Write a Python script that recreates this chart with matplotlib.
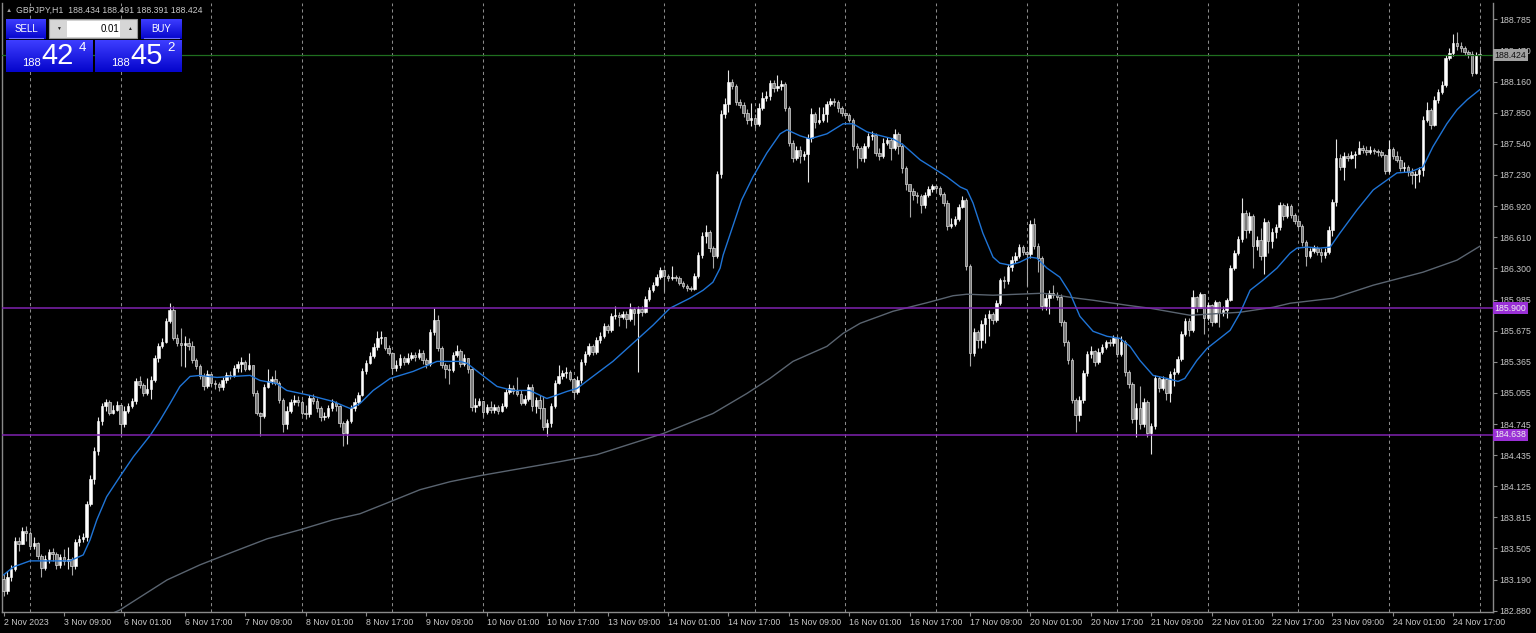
import numpy as np
import matplotlib
matplotlib.use("Agg")
import matplotlib.pyplot as plt
import matplotlib.transforms as mtransforms
from matplotlib.patches import Rectangle

plt.rcParams['font.family'] = ['Liberation Sans', 'DejaVu Sans']

symbol = "GBPJPY,H1"
first_open = 183.20
last_open = 188.434

# GBPJPY H1 closes, one per bar (2 Nov 17:00 .. 24 Nov)
closes = [
    183.08, 183.22, 183.30, 183.58, 183.55, 183.68, 183.66, 183.53, 183.56, 183.43,
    183.31, 183.40, 183.47, 183.45, 183.34, 183.42, 183.38, 183.40, 183.33, 183.57,
    183.60, 183.62, 183.95, 184.20, 184.48, 184.78, 184.92, 184.96, 184.86, 184.89,
    184.93, 184.75, 184.88, 184.92, 184.97, 185.17, 185.13, 185.05, 185.09, 185.18,
    185.40, 185.52, 185.56, 185.77, 185.88, 185.60, 185.55, 185.53, 185.55, 185.52,
    185.38, 185.32, 185.22, 185.12, 185.24, 185.15, 185.14, 185.11, 185.18, 185.23,
    185.22, 185.30, 185.34, 185.36, 185.29, 185.33, 185.05, 184.86, 184.83, 185.11,
    185.17, 185.19, 185.15, 184.98, 184.75, 184.88, 184.96, 184.98, 184.96, 184.86,
    184.85, 185.00, 184.97, 184.90, 184.82, 184.83, 184.90, 184.95, 184.92, 184.76,
    184.66, 184.78, 184.90, 184.96, 185.03, 185.27, 185.35, 185.42, 185.51, 185.60,
    185.61, 185.50, 185.45, 185.30, 185.33, 185.40, 185.36, 185.40, 185.43, 185.41,
    185.45, 185.38, 185.34, 185.66, 185.78, 185.50, 185.33, 185.29, 185.28, 185.43,
    185.47, 185.34, 185.40, 185.29, 184.91, 184.93, 184.97, 184.87, 184.91, 184.89,
    184.91, 184.88, 184.92, 185.06, 185.10, 185.07, 185.04, 184.95, 184.99, 185.11,
    184.92, 184.98, 184.90, 184.72, 184.76, 184.92, 185.15, 185.22, 185.25, 185.26,
    185.19, 185.06, 185.18, 185.36, 185.44, 185.52, 185.46, 185.58, 185.62, 185.72,
    185.68, 185.82, 185.83, 185.81, 185.84, 185.79, 185.89, 185.85, 185.89, 185.86,
    185.99, 186.08, 186.13, 186.21, 186.28, 186.22, 186.20, 186.21, 186.20, 186.15,
    186.12, 186.10, 186.09, 186.22, 186.43, 186.62, 186.66, 186.50, 186.42, 187.24,
    187.84, 187.94, 188.16, 188.12, 187.96, 187.93, 187.85, 187.78, 187.80, 187.74,
    187.90, 188.00, 188.02, 188.15, 188.10, 188.12, 188.14, 187.90, 187.55, 187.40,
    187.48, 187.42, 187.44, 187.60, 187.84, 187.76, 187.78, 187.84, 187.94, 187.97,
    187.96, 187.90, 187.85, 187.83, 187.78, 187.52, 187.50, 187.40, 187.52, 187.62,
    187.63, 187.45, 187.42, 187.55, 187.58, 187.50, 187.64, 187.52, 187.30, 187.14,
    187.07, 187.03, 187.02, 186.93, 187.03, 187.09, 187.12, 187.10, 187.04, 186.95,
    186.72, 186.74, 186.79, 186.91, 186.98, 186.32, 185.45, 185.66, 185.58, 185.74,
    185.80, 185.84, 185.78, 185.95, 186.18, 186.17, 186.31, 186.38, 186.42, 186.51,
    186.46, 186.44, 186.74, 186.52, 186.40, 185.92, 186.00, 186.05, 186.03, 186.01,
    185.76, 185.56, 185.38, 184.98, 184.84, 184.98, 185.25, 185.44, 185.47, 185.36,
    185.46, 185.51, 185.56, 185.55, 185.60, 185.44, 185.56, 185.26, 185.14, 184.80,
    184.90, 184.75, 184.96, 184.66, 184.73, 185.20, 185.10, 185.19, 185.05, 185.24,
    185.26, 185.39, 185.64, 185.77, 185.68, 186.01, 185.90, 186.04, 185.80, 185.93,
    185.76, 185.96, 185.85, 185.88, 185.98, 186.30, 186.45, 186.59, 186.85, 186.68,
    186.82, 186.52, 186.58, 186.42, 186.76, 186.57, 186.66, 186.71, 186.93, 186.82,
    186.92, 186.83, 186.77, 186.72, 186.56, 186.42, 186.47, 186.50, 186.46, 186.43,
    186.46, 186.68, 186.96, 187.40, 187.31, 187.42, 187.40, 187.43, 187.44, 187.50,
    187.48, 187.46, 187.48, 187.47, 187.46, 187.43, 187.27, 187.49, 187.42, 187.38,
    187.30, 187.31, 187.26, 187.23, 187.24, 187.28, 187.78, 187.88, 187.73, 187.98,
    188.06, 188.13, 188.40, 188.45, 188.55, 188.52, 188.50, 188.46, 188.44, 188.25,
    188.43, 188.424,
]
highs = [
    183.25, 183.28, 183.34, 183.62, 183.62, 183.72, 183.73, 183.68, 183.62, 183.57,
    183.45, 183.44, 183.50, 183.51, 183.47, 183.45, 183.50, 183.52, 183.42, 183.60,
    183.64, 183.66, 183.98, 184.24, 184.52, 184.82, 184.95, 184.99, 184.98, 184.93,
    184.97, 184.90, 184.92, 184.95, 185.00, 185.20, 185.22, 185.15, 185.20, 185.22,
    185.43, 185.55, 185.60, 185.80, 185.95, 185.92, 185.64, 185.70, 185.62, 185.60,
    185.57, 185.40, 185.34, 185.25, 185.28, 185.22, 185.18, 185.16, 185.21, 185.26,
    185.27, 185.33, 185.37, 185.41, 185.38, 185.45, 185.32, 185.08, 184.87, 185.14,
    185.29, 185.22, 185.28, 185.17, 185.00, 184.92, 184.99, 185.03, 185.02, 184.98,
    184.93, 185.03, 185.04, 185.00, 184.92, 184.87, 184.93, 184.99, 184.97, 184.93,
    184.78, 184.80, 184.93, 185.00, 185.06, 185.30, 185.38, 185.46, 185.55, 185.67,
    185.67, 185.60, 185.53, 185.46, 185.38, 185.44, 185.42, 185.45, 185.46, 185.46,
    185.49, 185.48, 185.40, 185.69, 185.90, 185.83, 185.52, 185.35, 185.34, 185.46,
    185.53, 185.49, 185.44, 185.40, 185.30, 185.00, 185.00, 184.97, 184.94, 184.97,
    184.94, 184.93, 184.95, 185.09, 185.14, 185.13, 185.21, 185.08, 185.03, 185.14,
    185.14, 185.01, 185.03, 185.02, 184.80, 184.95, 185.18, 185.33, 185.28, 185.31,
    185.28, 185.20, 185.22, 185.39, 185.47, 185.55, 185.54, 185.61, 185.66, 185.75,
    185.74, 185.85, 185.92, 185.86, 185.87, 185.87, 185.95, 185.91, 185.92, 185.92,
    186.02, 186.11, 186.16, 186.24, 186.31, 186.29, 186.24, 186.32, 186.23, 186.22,
    186.17, 186.14, 186.12, 186.25, 186.46, 186.66, 186.73, 186.68, 186.52, 187.27,
    187.88, 188.00, 188.28, 188.19, 188.14, 187.99, 187.96, 187.89, 187.95, 187.84,
    187.95, 188.06, 188.07, 188.18, 188.18, 188.23, 188.18, 188.16, 187.92, 187.58,
    187.52, 187.52, 187.47, 187.64, 187.90, 187.86, 187.91, 187.91, 187.97, 188.00,
    188.00, 187.98, 187.92, 187.86, 187.85, 187.80, 187.55, 187.52, 187.55, 187.65,
    187.67, 187.65, 187.50, 187.60, 187.61, 187.60, 187.69, 187.66, 187.55, 187.32,
    187.12, 187.10, 187.06, 187.04, 187.06, 187.12, 187.14, 187.13, 187.12, 187.06,
    186.98, 186.80, 186.82, 186.94, 187.02, 187.00, 186.34, 185.70, 185.68, 185.78,
    185.84, 185.88, 185.86, 185.98, 186.20, 186.22, 186.34, 186.42, 186.46, 186.54,
    186.53, 186.48, 186.78, 186.80, 186.55, 186.42, 186.04, 186.08, 186.13, 186.06,
    186.04, 185.78, 185.58, 185.40, 185.00, 185.02, 185.28, 185.47, 185.52, 185.48,
    185.50, 185.54, 185.58, 185.59, 185.63, 185.62, 185.62, 185.58, 185.28, 185.16,
    184.95, 185.12, 185.00, 184.98, 184.76, 185.23, 185.22, 185.22, 185.20, 185.27,
    185.30, 185.42, 185.67, 185.80, 185.80, 186.08, 186.02, 186.06, 186.04, 185.96,
    185.94, 185.98, 185.97, 185.92, 186.00, 186.33, 186.48, 186.62, 187.00, 186.88,
    186.86, 186.84, 186.62, 186.70, 186.80, 186.78, 186.70, 186.74, 186.96, 186.95,
    186.95, 186.94, 186.85, 186.80, 186.74, 186.58, 186.50, 186.53, 186.52, 186.50,
    186.50, 186.72, 186.99, 187.59, 187.44, 187.46, 187.45, 187.47, 187.47, 187.57,
    187.53, 187.52, 187.52, 187.50, 187.49, 187.48, 187.44, 187.58, 187.51, 187.47,
    187.42, 187.36, 187.33, 187.30, 187.27, 187.31, 187.82, 187.96, 187.90, 188.02,
    188.09, 188.17, 188.43, 188.50, 188.64, 188.66, 188.56, 188.52, 188.48, 188.47,
    188.46, 188.491,
]
lows = [
    183.03, 183.05, 183.18, 183.28, 183.48, 183.55, 183.58, 183.50, 183.50, 183.40,
    183.22, 183.29, 183.36, 183.38, 183.30, 183.31, 183.34, 183.30, 183.24, 183.30,
    183.53, 183.57, 183.58, 183.93, 184.15, 184.44, 184.74, 184.88, 184.84, 184.85,
    184.88, 184.63, 184.72, 184.86, 184.90, 184.94, 185.10, 185.02, 185.03, 184.99,
    185.16, 185.36, 185.50, 185.55, 185.75, 185.58, 185.52, 185.32, 185.31, 185.48,
    185.35, 185.29, 185.19, 185.08, 185.10, 185.12, 185.09, 185.07, 185.08, 185.15,
    185.19, 185.21, 185.26, 185.26, 185.27, 185.28, 185.02, 184.84, 184.63, 184.81,
    185.10, 185.14, 185.13, 184.95, 184.67, 184.70, 184.86, 184.93, 184.92, 184.84,
    184.80, 184.82, 184.94, 184.87, 184.78, 184.79, 184.81, 184.88, 184.88, 184.72,
    184.53, 184.55, 184.76, 184.88, 184.93, 185.02, 185.24, 185.34, 185.40, 185.48,
    185.54, 185.48, 185.43, 185.24, 185.27, 185.30, 185.33, 185.34, 185.38, 185.37,
    185.39, 185.34, 185.30, 185.32, 185.63, 185.47, 185.30, 185.20, 185.14, 185.26,
    185.41, 185.31, 185.32, 185.25, 184.88, 184.87, 184.92, 184.82, 184.85, 184.86,
    184.86, 184.85, 184.87, 184.90, 185.04, 185.04, 185.02, 184.93, 184.93, 184.97,
    184.88, 184.86, 184.80, 184.69, 184.63, 184.72, 184.90, 185.14, 185.19, 185.20,
    185.17, 185.00, 185.04, 185.15, 185.33, 185.42, 185.43, 185.44, 185.55, 185.60,
    185.65, 185.66, 185.79, 185.72, 185.79, 185.70, 185.77, 185.73, 185.26, 185.82,
    185.85, 185.97, 186.06, 186.12, 186.19, 186.06, 186.17, 186.18, 186.17, 186.13,
    186.10, 186.07, 186.07, 186.08, 186.20, 186.40, 186.55, 186.46, 186.30, 186.40,
    187.20, 187.80, 187.86, 188.09, 187.93, 187.90, 187.81, 187.74, 187.72, 187.70,
    187.72, 187.88, 187.97, 187.98, 188.06, 188.07, 188.08, 187.87, 187.52, 187.36,
    187.38, 187.35, 187.38, 187.16, 187.56, 187.70, 187.74, 187.76, 187.76, 187.92,
    187.92, 187.86, 187.82, 187.81, 187.76, 187.48, 187.30, 187.37, 187.36, 187.50,
    187.58, 187.42, 187.38, 187.40, 187.53, 187.38, 187.48, 187.44, 187.25, 187.08,
    186.81, 186.98, 186.95, 186.85, 186.90, 187.01, 187.06, 187.06, 187.02, 186.92,
    186.68, 186.70, 186.72, 186.77, 186.90, 186.28, 185.32, 185.42, 185.50, 185.50,
    185.55, 185.62, 185.74, 185.76, 185.93, 186.10, 186.14, 186.27, 186.35, 186.40,
    186.43, 186.12, 186.40, 186.49, 186.26, 185.88, 185.88, 185.84, 186.00, 185.98,
    185.72, 185.52, 185.34, 184.95, 184.67, 184.78, 184.95, 185.22, 185.40, 185.32,
    185.34, 185.44, 185.49, 185.52, 185.52, 185.41, 185.42, 185.22, 185.10, 184.76,
    184.62, 184.70, 184.72, 184.62, 184.45, 184.70, 185.06, 185.08, 184.98, 184.96,
    185.12, 185.24, 185.37, 185.62, 185.62, 185.66, 185.86, 185.95, 185.64, 185.78,
    185.72, 185.75, 185.71, 185.82, 185.80, 185.97, 186.28, 186.43, 186.56, 186.60,
    186.65, 186.30, 186.48, 186.38, 186.24, 186.45, 186.50, 186.60, 186.68, 186.78,
    186.80, 186.80, 186.74, 186.70, 186.52, 186.32, 186.40, 186.45, 186.43, 186.36,
    186.40, 186.44, 186.62, 186.92, 187.28, 187.18, 187.37, 187.39, 187.30, 187.45,
    187.45, 187.43, 187.44, 187.44, 187.42, 187.41, 187.24, 187.25, 187.39, 187.36,
    187.27, 187.26, 187.22, 187.14, 187.10, 187.16, 187.22, 187.76, 187.69, 187.72,
    187.95, 188.04, 188.11, 188.38, 188.42, 188.48, 188.46, 188.43, 188.40, 188.22,
    188.24, 188.391,
]

# moving averages (bar position, price)
fast_ma_bars = [0, 2.6, 7.0, 17.6, 21.1, 22.9, 24.7, 27.3, 30.8, 34.4,
                38.8, 41.4, 44.1, 46.7, 49.4, 52.0, 56.5, 60.8, 65.3, 67.9,
                72.3, 75.0, 81.2, 87.3, 91.8, 94.4, 97.9, 102.4, 108.5, 114.8,
                120.9, 122.8, 126.2, 130.7, 134.9, 139.4, 143.9, 145.5, 149.2, 151.9,
                156.1, 161.4, 166.7, 172.0, 176.5, 181.8, 185.3, 187.9, 189.8, 190.6,
                195.5, 198.5, 202.2, 205.7, 207.5, 211.0, 213.6, 218.1, 222.4, 225.0,
                228.7, 231.4, 235.6, 238.3, 242.8, 246.2, 249.9, 253.4, 255.2, 256.8,
                259.4, 262.1, 263.9, 266.6, 269.2, 271.9, 273.7, 276.4, 279.8, 282.5,
                285.1, 288.6, 292.3, 295.7, 298.4, 301.0, 304.5, 308.2, 311.1, 312.9,
                316.1, 318.8, 322.2, 324.9, 327.5, 330.2, 333.6, 337.3, 340.8, 342.6,
                345.3, 348.7, 351.4, 354.0, 358.5, 362.8, 366.5, 369.1, 372.6, 376.0,
                378.6, 382.3, 385.0, 387.7, 391.0]
fast_ma_vals = [183.24, 183.32, 183.38, 183.38, 183.44, 183.59, 183.79, 184.02, 184.22, 184.42,
                184.63, 184.78, 184.95, 185.12, 185.22, 185.23, 185.21, 185.22, 185.23, 185.18,
                185.15, 185.08, 185.03, 184.97, 184.90, 184.95, 185.08, 185.20, 185.27, 185.37,
                185.37, 185.35, 185.25, 185.12, 185.08, 185.08, 185.00, 185.02, 185.07, 185.10,
                185.22, 185.37, 185.55, 185.73, 185.90, 186.00, 186.08, 186.16, 186.30, 186.43,
                186.98, 187.21, 187.45, 187.64, 187.68, 187.62, 187.59, 187.64, 187.74, 187.74,
                187.66, 187.63, 187.59, 187.53, 187.38, 187.30, 187.21, 187.11, 187.08, 186.95,
                186.65, 186.41, 186.35, 186.33, 186.36, 186.41, 186.40, 186.30, 186.21, 186.05,
                185.82, 185.67, 185.62, 185.60, 185.52, 185.38, 185.23, 185.20, 185.17, 185.20,
                185.38, 185.50, 185.60, 185.68, 185.85, 186.08, 186.18, 186.30, 186.45, 186.50,
                186.51, 186.50, 186.51, 186.65, 186.88, 187.08, 187.18, 187.25, 187.26, 187.31,
                187.51, 187.74, 187.88, 187.98, 188.08]
slow_ma_bars = [29.0, 30.8, 43.3, 52.0, 60.8, 69.8, 78.5, 87.3, 94.4, 102.4,
                110.3, 118.3, 126.2, 136.8, 147.4, 157.2, 174.7, 187.9, 196.9, 203.0,
                209.1, 218.1, 222.4, 226.9, 235.6, 244.6, 251.5, 255.2, 262.1, 275.3,
                284.3, 288.6, 297.6, 303.7, 314.3, 327.5, 336.3, 340.8, 352.2, 362.8,
                376.0, 385.0, 391.1]
slow_ma_vals = [182.86, 182.89, 183.19, 183.34, 183.47, 183.60, 183.69, 183.79, 183.85, 183.97,
                184.09, 184.17, 184.23, 184.30, 184.37, 184.44, 184.65, 184.85, 185.05, 185.20,
                185.37, 185.52, 185.65, 185.75, 185.87, 185.955, 186.025, 186.04, 186.03, 186.05,
                186.00, 185.98, 185.93, 185.90, 185.83, 185.86, 185.91, 185.95, 186.00, 186.13,
                186.26, 186.38, 186.52]

levels = [185.900, 184.638]
bid = 188.424
price_ticks = [188.785, 188.470, 188.160, 187.850, 187.540, 187.230, 186.920, 186.610,
               186.300, 185.985, 185.675, 185.365, 185.055, 184.745, 184.435, 184.125,
               183.815, 183.505, 183.190, 182.880]
time_labels = ["2 Nov 2023", "3 Nov 09:00", "6 Nov 01:00", "6 Nov 17:00", "7 Nov 09:00",
               "8 Nov 01:00", "8 Nov 17:00", "9 Nov 09:00", "10 Nov 01:00", "10 Nov 17:00",
               "13 Nov 09:00", "14 Nov 01:00", "14 Nov 17:00", "15 Nov 09:00", "16 Nov 01:00",
               "16 Nov 17:00", "17 Nov 09:00", "20 Nov 01:00", "20 Nov 17:00", "21 Nov 09:00",
               "22 Nov 01:00", "22 Nov 17:00", "23 Nov 09:00", "24 Nov 01:00", "24 Nov 17:00"]

W, H = 1536, 633
fig = plt.figure(figsize=(W / 100, H / 100), dpi=100, facecolor='black')
ax = fig.add_axes([2 / W, 21 / H, 1491 / W, 609 / H], facecolor='black')

n = len(closes)
x = np.arange(n)
c = np.array(closes)
o = np.r_[first_open, c[:-1]]
o[-1] = last_open
h = np.array(highs)
l = np.array(lows)
up = c >= o
body_lo = np.minimum(o, c)
body_h = np.maximum(np.abs(c - o), 0.004)

# day separators
for b in range(7, n, 24):
    ax.axvline(b, color='#8a8a8a', lw=0.75, ls=(0, (3, 3)), zorder=1)

ax.vlines(x[up], l[up], h[up], colors='#e6e6e6', lw=0.8, zorder=2)
ax.vlines(x[~up], l[~up], h[~up], colors='#a8a8a8', lw=0.8, zorder=2)
ax.bar(x[up], body_h[up], bottom=body_lo[up], width=0.66, color='white',
       edgecolor='white', lw=0.4, zorder=3)
ax.bar(x[~up], body_h[~up], bottom=body_lo[~up], width=0.66, color='#7a7a7a',
       edgecolor='#d8d8d8', lw=0.5, zorder=3)

ax.plot(slow_ma_bars, slow_ma_vals, color='#5a6470', lw=1.0, zorder=4)
ax.plot(fast_ma_bars, fast_ma_vals, color='#1f74d6', lw=1.0, zorder=4)

for lv in levels:
    ax.axhline(lv, color='#7f22b0', lw=1.1, zorder=5)
ax.axhline(bid, color='#1f6e1f', lw=0.9, zorder=5)

ax.set_xlim(-0.424, 394.54)
ax.set_ylim(182.870, 188.945)

for s in ax.spines.values():
    s.set_color('#8a8a8a')
    s.set_linewidth(1.0)
ax.spines['top'].set_visible(False)

ax.yaxis.tick_right()
ax.set_yticks(price_ticks)
ax.set_yticklabels([f"{v:.3f}" for v in price_ticks])
ax.tick_params(axis='y', length=3, width=0.8, color='#8a8a8a', labelcolor='#c8c8c8',
               labelsize=6.3, pad=1.5)
ax.set_xticks(np.arange(0, n, 16)[:len(time_labels)])
ax.set_xticklabels(time_labels)
ax.tick_params(axis='x', length=3, width=0.8, color='#8a8a8a', labelcolor='#c8c8c8',
               labelsize=6.3, pad=1.5)
for t in ax.get_xticklabels():
    t.set_horizontalalignment('left')

# price tags on the right scale
tr = mtransforms.blended_transform_factory(ax.transAxes, ax.transData)
for lv in levels:
    ax.text(1.0008, lv, f"{lv:.3f}", transform=tr, ha='left', va='center', fontsize=6.3,
            color='#f0f0f0', zorder=10, clip_on=False,
            bbox=dict(boxstyle='square,pad=0.18', fc='#9a30d6', ec='none'))
ax.text(1.0008, bid, f"{bid:.3f}", transform=tr, ha='left', va='center', fontsize=6.3,
        color='#101010', zorder=10, clip_on=False,
        bbox=dict(boxstyle='square,pad=0.18', fc='#a0a0a0', ec='none'))

# overlay in pixel units for header and trade panel
ov = fig.add_axes([0, 0, 1, 1], facecolor='none')
ov.axis('off')

ov.text(9, 10, "\u25b2", fontsize=4.5, color='#a0a0a0', ha='center', va='center')
ov.text(16, 10, f"{symbol}  188.434 188.491 188.391 188.424", fontsize=6.3,
        color='#c8c8c8', ha='left', va='center')


def blue_box(x0, y0, w, hgt):
    grad = np.linspace(0, 1, 32)[:, None]
    top = np.array([0.24, 0.24, 1.0])
    bot = np.array([0.02, 0.02, 0.80])
    img = top + (bot - top) * grad[..., None]
    ov.imshow(img, extent=(x0, x0 + w, y0 + hgt, y0), aspect='auto', zorder=5)


blue_box(6, 19, 40, 20)
blue_box(141, 19, 41, 20)
blue_box(6, 40, 87, 32)
blue_box(95, 40, 87, 32)
ov.plot([9, 43], [37.5, 37.5], color='#7070ff', lw=0.8, zorder=6)
ov.plot([144, 179], [37.5, 37.5], color='#7070ff', lw=0.8, zorder=6)
ov.text(26, 28.5, "SELL", fontsize=7, color='white', ha='center', va='center', zorder=7)
ov.text(161, 28.5, "BUY", fontsize=7, color='white', ha='center', va='center', zorder=7)

ov.add_patch(Rectangle((49, 19), 88, 19, fc='#d6d6d6', ec='#9a9a9a', lw=0.8, zorder=5))
ov.add_patch(Rectangle((67, 20.5), 53, 16, fc='white', ec='none', zorder=6))
ov.text(58, 28.5, "\u25bc", fontsize=3.5, color='#202020', ha='center', va='center', zorder=7)
ov.text(129, 28.5, "\u25b2", fontsize=3.5, color='#202020', ha='center', va='center', zorder=7)
ov.text(119, 28.5, "0.01", fontsize=7, color='black', ha='right', va='center', zorder=7)

for bx, big, sup in [(6, "42", "4"), (95, "45", "2")]:
    ov.text(bx + 25, 62.5, "188", fontsize=8, color='white', ha='center', va='center', zorder=7)
    ov.text(bx + 52, 56, big, fontsize=21, color='white', ha='center', va='center', zorder=7)
    ov.text(bx + 76, 48, sup, fontsize=9.5, color='white', ha='center', va='center', zorder=7)

ov.set_xlim(0, W)
ov.set_ylim(H, 0)

fig.savefig("out.png", dpi=100, facecolor='black')
